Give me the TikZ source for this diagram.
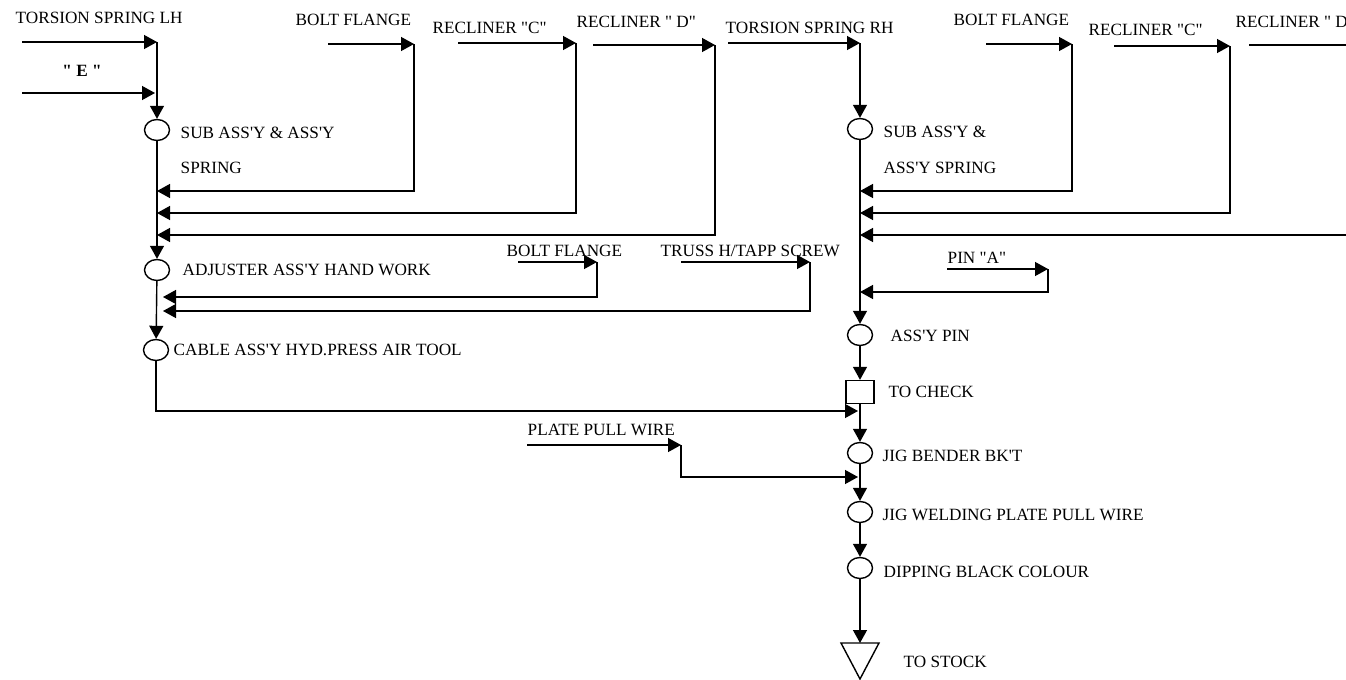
\documentclass[tikz,border=0pt]{standalone}
\usepackage{fontspec}
\setmainfont{Liberation Serif}[Ligatures=TeXOff]
\usepackage{tikz}
\usetikzlibrary{positioning, arrows.meta, calc, shapes.geometric}

\begin{document}
\begin{tikzpicture}[x=0.5pt, y=-0.5pt, line width=0.7pt,
    flow/.style={-{Triangle[length=6.5pt, width=7pt]}},
    op/.style={draw, ellipse, minimum width=12.5pt, minimum height=10.5pt, inner sep=0pt},
    chkbox/.style={draw, rectangle, minimum width=14pt, minimum height=11.5pt, inner sep=0pt},
    lbl/.style={anchor=west, inner sep=0pt, text height=5.7pt, text depth=0pt,
                font=\fontsize{8.6}{10}\selectfont}]
    \useasboundingbox (0,0) rectangle (1346,680);

    % LH side
    \node[op] (lsub) at (157,130) {};
    \node[op] (ladj) at (157,270) {};
    \node[op] (lcab) at (156,350) {};
    \node[lbl] (tlh)  at (15,18)  {TORSION SPRING LH};
    \node[lbl, anchor=center, font=\fontsize{8.6}{10}\selectfont\bfseries] (te) at (82,71) {" E "};
    \node[lbl] (tbf1) at (295,20) {BOLT FLANGE};
    \node[lbl] (trc1) at (432,28) {RECLINER "C"};
    \node[lbl] (trd1) at (576,22) {RECLINER " D"};
    \node[lbl] (tsub) at (180,133) {SUB ASS'Y \& ASS'Y};
    \node[lbl] (tspr) at (180,168) {SPRING};
    \node[lbl] (tadj) at (182,270) {ADJUSTER ASS'Y HAND WORK};
    \node[lbl] (tbf3) at (506,251) {BOLT FLANGE};
    \node[lbl] (ttss) at (660,251) {TRUSS H/TAPP SCREW};
    \node[lbl] (tcab) at (173,350) {CABLE ASS'Y HYD.PRESS AIR TOOL};

    % RH side
    \node[op] (rsub) at (860,129) {};
    \node[op] (rpin) at (860,335) {};
    \node[chkbox] (chk) at (860,392) {};
    \node[op] (rbend) at (860,453) {};
    \node[op] (rweld) at (860,512) {};
    \node[op] (rdip) at (860,568) {};
    \coordinate (stock) at (860,643);
    \draw (stock) ++(-19,0) -- ++(38,0) -- ++(-19,36) -- cycle;
    \node[lbl] (trh)  at (725,28)  {TORSION SPRING RH};
    \node[lbl] (tbf2) at (953,20)  {BOLT FLANGE};
    \node[lbl] (trc2) at (1088,30) {RECLINER "C"};
    \node[lbl] (trd2) at (1235,22) {RECLINER " D};
    \node[lbl] (trsub) at (883,132) {SUB ASS'Y \&};
    \node[lbl] (trspr) at (883,168) {ASS'Y SPRING};
    \node[lbl] (tpina) at (947,258) {PIN "A"};
    \node[lbl] (trpin) at (890,336) {ASS'Y PIN};
    \node[lbl] (tchk)  at (888,392) {TO CHECK};
    \node[lbl] (tpp)   at (527,430) {PLATE PULL WIRE};
    \node[lbl] (tbend) at (882,456) {JIG BENDER BK'T};
    \node[lbl] (tweld) at (882,515) {JIG WELDING PLATE PULL WIRE};
    \node[lbl] (tdip)  at (883,572) {DIPPING BLACK COLOUR};
    \node[lbl] (tstk)  at (903,662) {TO STOCK};

    % feed points
    \coordinate (lhin) at (22,42);   \coordinate (lhj) at (157,42);
    \coordinate (ein) at (22,93);
    \coordinate (bf1in) at (328,44); \coordinate (bf1) at (414,44);
    \coordinate (rc1in) at (458,43); \coordinate (rc1) at (576,43);
    \coordinate (rd1in) at (593,45); \coordinate (rd1) at (715,45);
    \coordinate (bf3in) at (518,262); \coordinate (bf3) at (597,262);
    \coordinate (tsin) at (681,262); \coordinate (ts) at (810,262);
    \coordinate (lj1) at (157,191);  \coordinate (lj2) at (157,213);
    \coordinate (lj3) at (157,235);  \coordinate (lj4) at (163,297);
    \coordinate (lj5) at (163,311);
    \coordinate (rhin) at (728,43);  \coordinate (rhj) at (860,43);
    \coordinate (bf2in) at (986,44); \coordinate (bf2) at (1072,44);
    \coordinate (rc2in) at (1114,46); \coordinate (rc2) at (1230,46);
    \coordinate (rd2in) at (1249,45); \coordinate (rd2) at (1346,45);
    \coordinate (edge) at (1346,235);
    \coordinate (pinin) at (947,269); \coordinate (pin) at (1048,269);
    \coordinate (ppin) at (527,445); \coordinate (pp) at (681,445);
    \coordinate (rj1) at (860,191);  \coordinate (rj2) at (860,213);
    \coordinate (rj3) at (860,235);  \coordinate (rj4) at (860,292);
    \coordinate (rj5) at (858,411);  \coordinate (rj6) at (858,477);

    % LH flow
    \draw[flow] (lhin) -- (lhj);
    \draw[flow] (lhj) -- (lsub);
    \draw[flow] (ein) -- ([xshift=-1pt]ein -| lhj);
    \draw[flow] (bf1in) -- (bf1);
    \draw[flow] (bf1) |- (lj1);
    \draw[flow] (rc1in) -- (rc1);
    \draw[flow] (rc1) |- (lj2);
    \draw[flow] (rd1in) -- (rd1);
    \draw[flow] (rd1) |- (lj3);
    \draw[flow] (lsub) -- (ladj);
    \draw[flow] (bf3in) -- (bf3);
    \draw[flow] (bf3) |- (lj4);
    \draw[flow] (tsin) -- (ts);
    \draw[flow] (ts) |- (lj5);
    \draw[flow] (ladj) -- (lcab);
    \draw[flow] (lcab) |- (rj5);

    % RH flow
    \draw[flow] (rhin) -- (rhj);
    \draw[flow] (rhj) -- (rsub);
    \draw[flow] (bf2in) -- (bf2);
    \draw[flow] (bf2) |- (rj1);
    \draw[flow] (rc2in) -- (rc2);
    \draw[flow] (rc2) |- (rj2);
    \draw (rd2in) -- (rd2);
    \draw[flow] (edge) -- (rj3);
    \draw[flow] (pinin) -- (pin);
    \draw[flow] (pin) |- (rj4);
    \draw[flow] (rsub) -- (rpin);
    \draw[flow] (rpin) -- (chk);
    \draw[flow] (chk) -- (rbend);
    \draw[flow] (ppin) -- (pp);
    \draw[flow] (pp) |- (rj6);
    \draw[flow] (rbend) -- (rweld);
    \draw[flow] (rweld) -- (rdip);
    \draw[flow] (rdip) -- (stock);
\end{tikzpicture}
\end{document}
